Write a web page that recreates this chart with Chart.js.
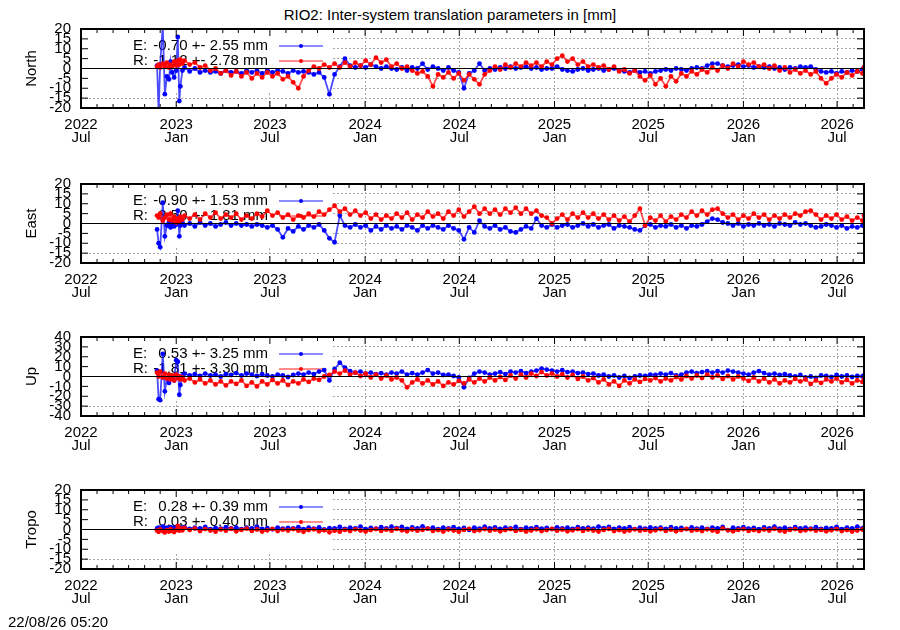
<!DOCTYPE html>
<html>
<head>
<meta charset="utf-8">
<title>RIO2 inter-system translation</title>
<script src="https://cdn.jsdelivr.net/npm/chart.js@4.4.1/dist/chart.umd.min.js"></script>
<style>
  body { margin: 0; background: #fff; font-family: "Liberation Sans", Arial, sans-serif; color: #000; }
  #page { position: relative; width: 900px; height: 630px; overflow: hidden; }
  #page canvas { position: absolute; left: 0; }
  .txt { position: absolute; font-size: 15px; line-height: 18px; white-space: pre; }
</style>
</head>
<body>
<div id="page">
  <div class="txt" style="left:0;width:900px;top:6px;text-align:center">RIO2: Inter-system translation parameters in [mm]</div>
  <canvas id="p0" width="900" height="143"></canvas>
  <canvas id="p1" width="900" height="143"></canvas>
  <canvas id="p2" width="900" height="143"></canvas>
  <canvas id="p3" width="900" height="143"></canvas>
  <div class="txt" style="left:8px;top:613px">22/08/26 05:20</div>
</div>
<script>
'use strict';

// epochs, in days since 2022-07-01
const days = [
  147, 150, 153, 158, 162, 166, 170, 173, 176, 180, 184, 187, 190, 192, 196, 200,
  210, 220, 230, 240, 250, 260, 270, 280, 290, 300,
  310, 320, 330, 340, 350, 360, 370, 380, 390, 400,
  410, 420, 430, 440, 450, 460, 470, 480, 490, 500,
  510, 520, 530, 540, 550, 560, 570, 580, 590, 600,
  610, 620, 630, 640, 650, 660, 670, 680, 690, 700,
  710, 720, 730, 740, 750, 760, 770, 780, 790, 800,
  810, 820, 830, 840, 850, 860, 870, 880, 890, 900,
  910, 920, 930, 940, 950, 960, 970, 980, 990, 1000,
  1010, 1020, 1030, 1040, 1050, 1060, 1070, 1080, 1090, 1100,
  1110, 1120, 1130, 1140, 1150, 1160, 1170, 1180, 1190, 1200,
  1210, 1220, 1230, 1240, 1250, 1260, 1270, 1280, 1290, 1300,
  1310, 1320, 1330, 1340, 1350, 1360, 1370, 1380, 1390, 1400,
  1410, 1420, 1430, 1440, 1450, 1460, 1470, 1480, 1490, 1500,
  1510, 1513,
];

// North [mm]
const northE = [
  1.5, -22, 2, 22, -13, -4, -5.5, 3.5, -2, -4.5, -1, 16, -16.5, -9, -1, 0.5,
  -1.5, 0, -2, -1, -2, -1.5, -2.5, -1, -2, -1.5,
  -2.5, -1, -2, -1, -2.5, -1, -2, -1, -1.5, -2.5,
  -1, -2, -1.5, -2, -3, -2, -4.5, -13, -3, 1,
  5, 1.5, 0.5, 1.5, 0.5, 2, 1, 0, 1, 0,
  -0.5, 0.5, -1, 0.5, 0, 2.5, -0.5, 1, 0, -1,
  0.5, -1, -2, -10, -2.5, -1, 2.5, -1, 0, -0.5,
  0.5, 0, 1, 0, 0.5, 1, 0, 0.5, -0.5, 0,
  0, 1, -0.5, -1, -1.5, -0.5, 0, -1, -0.5, 0,
  -1, -0.5, 0, -1, -1.5, -2, -1, -2, -1.5, -2.5,
  -1.5, -1, -0.5, -1, 0, -0.5, -1, 0, 0.5, 0,
  1.5, 2.5, 2.5, 1.5, 1, 1.5, 2, 1, 1.5, 0.5,
  1, 0.5, 1, 0, 0.5, -0.5, 0.5, 0, 1, 0.5,
  1, -0.5, -1.5, -2, -1.5, -2.5, -1.5, -2, -1, -1.5,
  -0.5, 0.5,
];
const northR = [
  1, 2, 0.5, 2.5, 1, 3, 0.5, 2, 1, 3.5, 1.5, 4, 2, 4.5, 2.5, 4,
  2, 3, 0.5, 1.5, -1, 0, -2.5, -1, -3.5, -1.5,
  -4, -2, -5, -2.5, -4.5, -2, -4, -2.5, -5.5, -4,
  -7, -10, -4, -1, 1, 0, 2, 0.5, 2.5, 0.5,
  3, 1, 3, 1.5, 4, 2, 5.5, 3, 4.5, 1,
  2.5, 0, 1, -1, -2.5, -1.5, -4, -9, -3, -4.5,
  -2, -5, -2.5, -6, -3, -5.5, -8, -3, -1, 1,
  -0.5, 2, 0.5, 2.5, 1, 3, 1.5, 3, 1, 3.5,
  2, 5, 6.5, 3.5, 5, 2, 3.5, 1, 2, 0.5,
  1.5, -0.5, 1, -1.5, -0.5, -2.5, -1, -4, -6, -3.5,
  -8, -5, -9, -4, -6.5, -2.5, -4, -1.5, -3, -0.5,
  -2, 0.5, -1, 1.5, 0, 2.5, 1, 3.5, 2, 3,
  1, 2, 0, 1.5, -1, 0.5, -2, -0.5, -2.5, -1,
  -3, -1.5, -5, -7.5, -5, -3, -4.5, -2, -3.5, -1.5,
  -2.5, 0.5,
];

// East [mm]
const eastE = [
  -3, -10, -12, 10.5, -6.5, -1, 0.5, -2, 0, -1.5, -0.5, 6.5, -6.5, -1, 0.5, -1,
  0, -1.5, 0.5, -1, 0, -1.5, -0.5, 0.5, -1, 0,
  -1, -0.5, -1.5, -0.5, -1, -2, -1, -3, -7, -2.5,
  -4, -1.5, -3, -1, -2, -0.5, -3.5, -7.5, -9.5, 4,
  -1, -2, -0.5, -2, -1, -3.5, -1.5, -3, -1, -2.5,
  -1.5, -3, -1, -2, -3.5, -1, -2.5, -1, -2, -3,
  -1, -2.5, -3.5, -8, -2, -4.5, 1.5, -1.5, -2.5, -1,
  -3, -2, -4, -4.5, -3, -1.5, -2.5, 2.5, -1, -2,
  -0.5, -2, -1, -0.5, -2, -1, 0, -1.5, -0.5, -2,
  -1, -0.5, -2.5, -1, -1.5, -2, -3, -3.5, -1, -0.5,
  -2, -1, -1.5, -0.5, -2, -1, -2.5, -1, -1.5, -0.5,
  1, 2.5, 2, 0.5, 0, -1, 0, -1.5, -0.5, -1,
  0, -1, -0.5, -1.5, 0, -0.5, -1, 0.5, -0.5, 0,
  -1, -2, -1.5, -0.5, -1, -2, -1, -2.5, -1.5, -2,
  -1, -1,
];
const eastR = [
  4, 3, 5, 1.5, 3, 4.5, 2, 5, 1.5, 3.5, 0.5, 2.5, 1, 3.5, 2, 4,
  2.5, 4.5, 2, 5, 3, 5.5, 2.5, 4.5, 3, 5,
  2, 4, 2.5, 5, 3.5, 6.5, 4, 5.5, 3, 4.5,
  2, 4, 3, 5, 3.5, 6, 4.5, 7, 9, 6,
  7.5, 4.5, 6.5, 4, 5.5, 2.5, 4.5, 2, 4, 2.5,
  5, 3, 5.5, 2, 4.5, 3, 6, 3.5, 5, 2.5,
  6, 4, 7, 3.5, 6, 8.5, 5, 7.5, 5, 7,
  4.5, 7.5, 5.5, 8, 5, 7.5, 5, 6.5, 4, 3,
  0, 2.5, 4.5, 2, 5, 3, 5.5, 3, 5, 2.5,
  4.5, 2, 4, 1.5, 3.5, 1, 4, 7.5, -1, 3,
  1.5, 4, 1, 3.5, 2, 4.5, 3, 6, 4, 6.5,
  4.5, 7, 7.5, 5, 3, 4.5, 2, 4, 2.5, 5,
  3, 4.5, 2, 4, 2.5, 4.5, 3, 5, 4, 6,
  6.5, 4.5, 2, 4, 2.5, 4.5, 2, 3.5, 1.5, 3,
  1.5, 4,
];

// Up [mm]
const upE = [
  6, -23, -24, 23, -15, -2, -6.5, -1.5, 0, -4, 16.5, 15, -18.5, -8.5, 1, 3,
  1, 2.5, 0.5, 3, 1, 2, 0, 2.5, 1.5, 3.5,
  1, 3, 2, 0.5, 2.5, 1, 0, 2, 1, -0.5,
  1.5, 3, 2, 4, 2.5, 5, 6.5, -4, 7.5, 14,
  9, 5.5, 4, 5, 3, 4, 2.5, 3.5, 2, 4,
  3, 5, 2, 3.5, 2, 4, 6.5, 3, 4, 1.5,
  2, 0.5, -1, -11, -1.5, 3, 5, 4, 2, 3,
  4.5, 2.5, 5, 4, 5.5, 3.5, 5, 6, 8, 7,
  6, 5, 6.5, 4.5, 5, 3.5, 4, 2.5, 3, 1,
  2, 0, 1, -1, 0.5, -1.5, 0, 1, 0.5, 2,
  1.5, 3, 2, 3.5, 1, 2, 4, 5, 3.5, 4.5,
  5.5, 4, 5.5, 4, 6, 5, 4, 3, 2, 4,
  5.5, 3.5, 2, 3, 1.5, 2.5, 1, 0, 1.5, -1,
  0, -1.5, 1, 0.5, -0.5, 1.5, 0, 1, -0.5, 0.5,
  0, 1,
];
const upR = [
  4, 0, 5, -1, 3, -2, 2, -3, 1, -4, 2, -1.5, 0, -3, -1, -4,
  -2, -6, -3, -7, -4, -8, -5, -9, -5, -7.5,
  -4, -9.5, -6, -10, -5, -8, -3.5, -7, -4, -8.5,
  -5, -7, -3, -5.5, -2, -3.5, 0, 1.5, 5, 3,
  6, 2, 4, 0.5, 3, -1, 2, -2, 1, -3,
  -1, -4, -11, -6, -3, -7, -4, -8, -5, -9.5,
  -6, -8, -4.5, -7, -3, -6, -2, -5, -1, -4,
  -0.5, -3.5, 1, -2, 2, -1, 3, 0.5, 4.5, 1,
  3, 0, 2.5, -1, 1.5, -2.5, 0, -4, -1.5, -6,
  -3, -8, -5, -9.5, -4, -7, -3, -5.5, -2.5, -4,
  -1.5, -5, -2, -4, -0.5, -3, 0.5, -2, 1, -1.5,
  2, -1, 1, -2.5, 0.5, -3, 0, -2, -4.5, -1,
  -5, -2, -6, -3, -7, -4, -6, -2.5, -5, -3,
  -7.5, -4, -6.5, -3, -5, -2, -6, -3.5, -7, -4,
  -5.5, -3,
];

// Tropo [mm]
const tropoE = [
  0.5, 1, 0, 1.5, 0.5, 1, 0, 1.2, 0.3, 1, 0.5, 1.5, 0.2, 1, 0.5, 1.2,
  0.3, 1, 0.5, 1.3, 0.2, 0.8, 0.4, 1.2, 0.6, 1,
  0.2, 0.9, 0.5, 1.4, 0.3, 0.7, 0.1, 1, 0.4, 0.8,
  0.6, 1.2, 0.2, 0.9, 0.4, 1.1, 0, 0.7, 0.5, 1.3,
  0.3, 1, 0.6, 1.5, 0.2, 0.8, 0.4, 1.2, 0.5, 1.4,
  0.7, 1.3, 0.3, 1.1, 0.5, 1.6, 0.4, 0.9, 0.2, 1,
  0.5, 1.2, 0.3, 0.8, -0.2, 1, 0.4, 1.4, 0.6, 1.1,
  0.3, 0.9, 0.5, 1.3, 0.2, 1, 0.6, 1.2, 0.4, 0.8,
  0.2, 1.1, 0.5, 0.9, 0.3, 1.2, 0.6, 1, 0.4, 1.5,
  0.7, 1.3, 0.3, 1, 0.5, 1.2, 0.2, 0.9, 0.4, 1.1,
  0.6, 1, 0.3, 1.2, 0.5, 0.8, 0.2, 1.1, 0.4, 0.9,
  0.3, 1, 0.6, 1.3, -0.3, 0.9, 0.5, 1.2, 0.4, 0.8,
  0.2, 1.1, 0.6, 1.4, 0.4, 1, 0.3, 1.2, 0.5, 0.9,
  0.4, 1.2, 0.3, 0.8, 0.6, 1.3, 0.2, 1, 0.5, 1.4,
  0.6, 1,
];
const tropoR = [
  -0.5, -1.2, 0, -0.8, -1.5, -0.3, -1, 0.2, -0.7, -1.3, -0.2, 1.8, -0.6, 0.5, -0.4, 0.8,
  -0.3, 0.5, -0.8, 0.2, -0.5, -1.1, 0, -0.6, 0.3, -0.9,
  -0.2, 0.4, -0.7, 0, -1, -0.4, 0.3, -0.8, -0.1, -0.5,
  0.2, -0.6, -1.2, -0.3, 0.1, -0.9, -0.4, -1.4, -0.6, -1.1,
  -0.2, -0.8, 0.1, -0.5, -1, -0.3, 0.2, -0.7, -0.1, -0.6,
  0.3, -0.4, -0.9, 0, -0.6, -0.2, 0.4, -0.7, -0.3, -1,
  0, -0.5, -1.1, -0.2, 0.3, -0.8, -0.4, 0.2, -0.6, -0.1,
  -0.9, -0.3, 0.2, -0.7, -0.2, -1, -0.5, 0.1, -0.8, -0.3,
  0.3, -0.6, -0.1, -0.9, -0.4, 0.2, -0.7, 0, -0.5, -1,
  -0.2, 0.3, -0.8, -0.3, -1, -0.5, 0.1, -0.6, -0.2, -0.9,
  -0.4, 0.2, -0.7, -0.1, -0.9, -0.3, 0.3, -0.6, -0.2, -0.8,
  0.1, -0.5, -1.1, 0.5, -0.4, -0.9, -0.2, 0.2, -0.7, -0.3,
  -0.8, 0, -0.5, 0.3, -0.6, -1, -0.2, 0.2, -0.7, -0.4,
  0.1, -0.6, -0.2, -0.9, -0.4, 0.2, -0.8, -0.3, -1, -0.5,
  0, -0.2,
];

// key statistics (mean +- rms) per component
const meanE = [-0.70, -0.90, 0.53, 0.28];
const rmsE = [2.55, 1.53, 3.25, 0.39];
const meanR = [-1.12, 3.50, -1.81, 0.03];
const rmsR = [2.78, 1.81, 3.30, 0.40];

const panels = [
  { id: "p0", label: "North", e: northE, r: northR, yMin: -20, yMax: 20, step: 5, top: 29 },
  { id: "p1", label: "East", e: eastE, r: eastR, yMin: -20, yMax: 20, step: 5, top: 184 },
  { id: "p2", label: "Up", e: upE, r: upR, yMin: -40, yMax: 40, step: 10, top: 337 },
  { id: "p3", label: "Tropo", e: tropoE, r: tropoR, yMin: -20, yMax: 20, step: 5, top: 490 },
];

const FONT = '"Liberation Sans", Arial, sans-serif';
const BLUE = "#0000ff";
const RED = "#ff0000";
const PAD_TOP = 18; // canvas space above the plot box

// monthly ticks, labelled every January and July
const t0 = Date.UTC(2022, 6, 1);
const monthTicks = [];
const monthLabels = {};
for (let k = 0; k <= 49; k++) {
  const d = new Date(Date.UTC(2022, 6 + k, 1));
  const v = Math.round((d - t0) / 864e5);
  monthTicks.push(v);
  const m = d.getUTCMonth();
  if (m === 0 || m === 6) monthLabels[v] = [String(d.getUTCFullYear()), m === 0 ? "Jan" : "Jul"];
}

const toPoints = (values) => days.map((d, i) => ({ x: d, y: values[i] }));
const fmt = (v) => v.toFixed(2);

// gnuplot look: key drawn under the data, zero axis, inward tics, heavy border
const gnuFrame = {
  id: "gnuFrame",
  beforeDatasetsDraw(chart, args, opts) {
    const { ctx, chartArea: a } = chart;
    ctx.save();
    ctx.fillStyle = "#fff";
    ctx.fillRect(a.left + 1, a.top + 1, 250, 63); // key box hides the grid
    ctx.font = "15px " + FONT;
    ctx.textBaseline = "middle";
    opts.keys.forEach((k, i) => {
      const y = a.top + 17 + i * 15;
      ctx.fillStyle = "#000";
      ctx.textAlign = "left";
      ctx.fillText(k.name + ":", a.left + 52, y);
      ctx.textAlign = "right";
      ctx.fillText(k.text, a.left + 187, y);
      ctx.strokeStyle = k.line;
      ctx.lineWidth = 1.5;
      ctx.beginPath();
      ctx.moveTo(a.left + 198, y);
      ctx.lineTo(a.left + 242, y);
      ctx.stroke();
      ctx.fillStyle = k.color;
      ctx.beginPath();
      ctx.arc(a.left + 220, y, 2, 0, Math.PI * 2);
      ctx.fill();
    });
    ctx.restore();
  },
  afterDatasetsDraw(chart) {
    const { ctx, chartArea: a, scales } = chart;
    const xs = scales.x;
    const ys = scales.y;
    ctx.save();
    ctx.strokeStyle = "#000";
    ctx.lineWidth = 1.2;
    const y0 = ys.getPixelForValue(0);
    ctx.beginPath();
    ctx.moveTo(a.left, y0);
    ctx.lineTo(a.right, y0);
    ctx.stroke();

    ctx.lineWidth = 1;
    ctx.beginPath();
    xs.ticks.forEach((t) => {
      const px = xs.getPixelForValue(t.value);
      const len = monthLabels[t.value] ? 7 : 4;
      ctx.moveTo(px, a.bottom);
      ctx.lineTo(px, a.bottom - len);
      ctx.moveTo(px, a.top);
      ctx.lineTo(px, a.top + len);
    });
    ys.ticks.forEach((t) => {
      const py = ys.getPixelForValue(t.value);
      ctx.moveTo(a.left, py);
      ctx.lineTo(a.left + 7, py);
      ctx.moveTo(a.right, py);
      ctx.lineTo(a.right - 7, py);
    });
    ctx.stroke();

    ctx.lineWidth = 2;
    ctx.strokeRect(a.left, a.top, a.right - a.left, a.bottom - a.top);
    ctx.restore();
  },
};

Chart.defaults.font.family = FONT;
Chart.defaults.font.size = 15;
Chart.defaults.color = "#000";

const seriesStyle = (color, line) => ({
  borderColor: line,
  backgroundColor: color,
  pointBackgroundColor: color,
  pointBorderWidth: 0,
  pointRadius: 2.4,
  borderWidth: 1.8,
  tension: 0,
});

const createPanel = (p, k) => {
  const canvas = document.getElementById(p.id);
  canvas.style.top = (p.top - PAD_TOP) + "px";

  new Chart(canvas, {
    type: "line",
    data: {
      datasets: [
        { label: "E", data: toPoints(p.e), order: 1, ...seriesStyle(BLUE, "rgba(0, 0, 255, 0.7)") },
        { label: "R", data: toPoints(p.r), order: 0, ...seriesStyle(RED, "rgba(255, 0, 0, 0.7)") },
      ],
    },
    options: {
      responsive: false,
      animation: false,
      events: [],
      layout: { padding: { top: PAD_TOP, right: 36, left: 0, bottom: 0 } },
      scales: {
        x: {
          type: "linear",
          min: 0,
          max: 1513,
          afterBuildTicks: (scale) => {
            scale.ticks = monthTicks.map((v) => ({ value: v }));
          },
          afterFit: (scale) => {
            scale.height = 46;
          },
          ticks: {
            autoSkip: false,
            maxRotation: 0,
            minRotation: 0,
            padding: 10,
            font: { size: 15, lineHeight: 0.9 },
            callback: (value) => monthLabels[value] || "",
          },
          grid: {
            drawTicks: false,
            lineWidth: 1,
            color: (c) => (c.tick && c.tick.value > 0 && monthLabels[c.tick.value] ? "#a8a8a8" : "rgba(0,0,0,0)"),
          },
          border: { display: false, dash: [2, 2] },
        },
        y: {
          min: p.yMin,
          max: p.yMax,
          afterFit: (scale) => {
            scale.width = 81;
          },
          ticks: { stepSize: p.step, autoSkip: false, padding: 10, font: { size: 15, lineHeight: 1 } },
          grid: { drawTicks: false, color: "#a8a8a8", lineWidth: 1 },
          border: { display: false, dash: [2, 2] },
          title: { display: true, text: p.label, padding: { top: 23, bottom: 0 } },
        },
      },
      plugins: {
        legend: { display: false },
        tooltip: { enabled: false },
        gnuFrame: {
          keys: [
            { name: "E", text: `${fmt(meanE[k])} +- ${fmt(rmsE[k])} mm`, line: "rgba(0, 0, 255, 0.6)", color: BLUE },
            { name: "R", text: `${fmt(meanR[k])} +- ${fmt(rmsR[k])} mm`, line: "rgba(255, 0, 0, 0.6)", color: RED },
          ],
        },
      },
    },
    plugins: [gnuFrame],
  });
};

panels.forEach((p, k) => createPanel(p, k));
</script>
</body>
</html>
